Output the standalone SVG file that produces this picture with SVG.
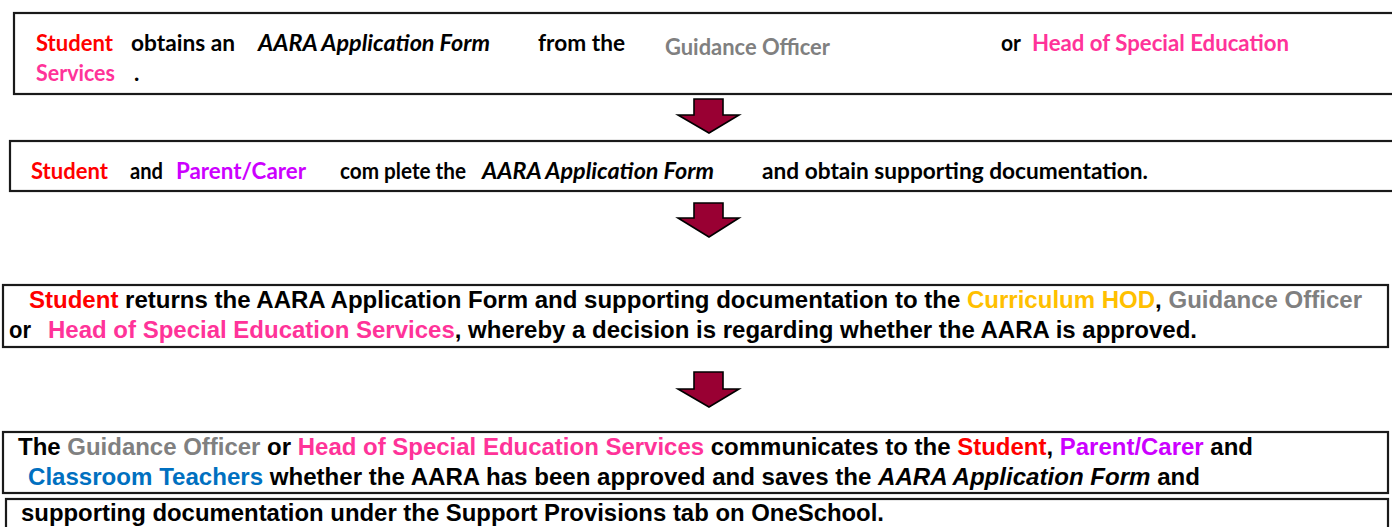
<svg xmlns="http://www.w3.org/2000/svg" width="1392" height="527" viewBox="0 0 1392 527">
<defs>
<style>
.box{fill:#fff;stroke:#1a1a1a;stroke-width:2.2}
.c{font-family:Lato,"Open Sans","Liberation Sans",sans-serif;font-weight:bold;font-size:22.5px;fill:#000}
.a{font-family:"Liberation Sans",Arial,sans-serif;font-weight:bold;font-size:24px;fill:#000}
.i{font-style:italic}
.red{fill:#FF0000}.pink{fill:#FF3399}.gray{fill:#808080}.purple{fill:#CC00FF}.orange{fill:#FFC000}.blue{fill:#0070C0}
.arrow{fill:#990033;stroke:#000;stroke-width:1.6;stroke-linejoin:miter}
</style>
</defs>
<g id="connectors">
<polygon class="arrow" points="694,99 723,99 723,115 739,115 709,133 678,115 694,115"/>
<polygon class="arrow" points="694,203 723,203 723,218 739,218 709,237 678,218 694,218"/>
<polygon class="arrow" points="694,372 723,372 723,389 739,389 709,407 678,389 694,389"/>
</g>
<g id="step1">
<rect class="box" x="14" y="13" width="1390" height="81"/>
<text class="c red" x="36" y="51" textLength="77" lengthAdjust="spacingAndGlyphs">Student</text>
<text class="c" x="131" y="51" textLength="104" lengthAdjust="spacingAndGlyphs">obtains an</text>
<text class="c i" x="258" y="51" textLength="232" lengthAdjust="spacingAndGlyphs">AARA Application Form</text>
<text class="c" x="538" y="51" textLength="87" lengthAdjust="spacingAndGlyphs">from the</text>
<text class="c gray" x="665" y="55" textLength="165" lengthAdjust="spacingAndGlyphs">Guidance Officer</text>
<text class="c" x="1001" y="51" textLength="20" lengthAdjust="spacingAndGlyphs">or</text>
<text class="c pink" x="1032" y="51" textLength="257" lengthAdjust="spacingAndGlyphs">Head of Special Education</text>
<text class="c pink" x="36" y="81" textLength="79" lengthAdjust="spacingAndGlyphs">Services</text>
<text class="c" x="134" y="81">.</text>
</g>
<g id="step2">
<rect class="box" x="10" y="141" width="1394" height="50"/>
<text class="c red" x="31" y="179" textLength="77" lengthAdjust="spacingAndGlyphs">Student</text>
<text class="c" x="130" y="179" textLength="33" lengthAdjust="spacingAndGlyphs">and</text>
<text class="c purple" x="176" y="179" textLength="130" lengthAdjust="spacingAndGlyphs">Parent/Carer</text>
<text class="c" x="340" y="179" textLength="126" lengthAdjust="spacingAndGlyphs">com plete the</text>
<text class="c i" x="482" y="179" textLength="232" lengthAdjust="spacingAndGlyphs">AARA Application Form</text>
<text class="c" x="762" y="179" textLength="386" lengthAdjust="spacingAndGlyphs">and obtain supporting documentation.</text>
</g>
<g id="step3">
<rect class="box" x="3" y="285" width="1385" height="62"/>
<text class="a" x="29" y="308" textLength="1333" lengthAdjust="spacingAndGlyphs"><tspan class="red">Student</tspan> returns the AARA Application Form and supporting documentation to the <tspan class="orange">Curriculum HOD</tspan>, <tspan class="gray">Guidance Officer</tspan></text>
<text class="a" x="9" y="338" textLength="22" lengthAdjust="spacingAndGlyphs">or</text>
<text class="a" x="48" y="338" textLength="1149" lengthAdjust="spacingAndGlyphs"><tspan class="pink">Head of Special Education Services</tspan>, whereby a decision is regarding whether the AARA is approved.</text>
</g>
<g id="step4">
<rect class="box" x="3" y="432" width="1385" height="61"/>
<text class="a" x="18" y="455" textLength="1235" lengthAdjust="spacingAndGlyphs">The <tspan class="gray">Guidance Officer</tspan> or <tspan class="pink">Head of Special Education Services</tspan> communicates to the <tspan class="red">Student</tspan>, <tspan class="purple">Parent/Carer</tspan> and</text>
<text class="a" x="28" y="485" textLength="1172" lengthAdjust="spacingAndGlyphs"><tspan class="blue">Classroom Teachers</tspan> whether the AARA has been approved and saves the <tspan class="i">AARA Application Form</tspan> and</text>
</g>
<g id="step5">
<rect class="box" x="6" y="499" width="1382" height="40"/>
<text class="a" x="21" y="521" textLength="863" lengthAdjust="spacingAndGlyphs">supporting documentation under the Support Provisions tab on OneSchool.</text>
</g>
</svg>
